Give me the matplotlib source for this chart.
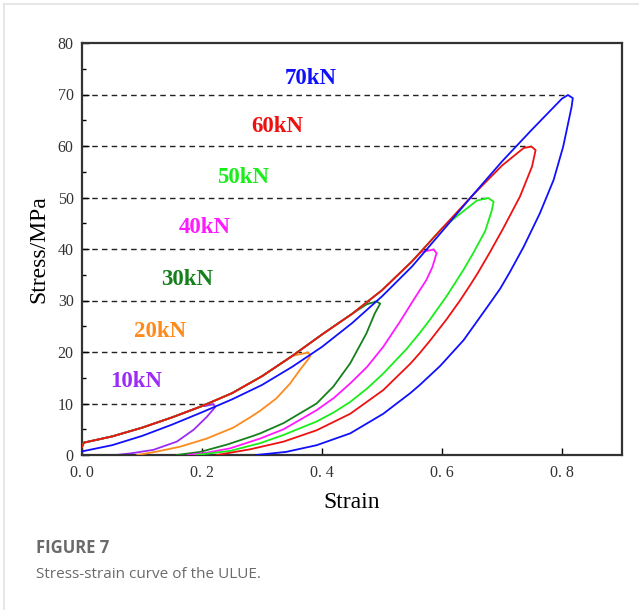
import numpy as np
import matplotlib
matplotlib.use("Agg")
import matplotlib.pyplot as plt
from matplotlib.lines import Line2D
from matplotlib.ticker import MultipleLocator

#####################################################################
### Data

# common loading branch (red / green / magenta ... lie on it)
env_strain = [0.0, 0.003, 0.05, 0.1, 0.15, 0.2, 0.25, 0.3, 0.35, 0.4, 0.45, 0.5,
              0.55, 0.6, 0.65, 0.7, 0.74]
env_stress = [1.6, 2.4, 3.6, 5.3, 7.3, 9.5, 12.0, 15.3, 19.2, 23.4, 27.4, 32.0,
              37.6, 44.0, 50.3, 56.2, 59.6]

# 70kN loading branch (a bit lower at small strain)
blue_strain = [0.0, 0.05, 0.1, 0.15, 0.2, 0.25, 0.3, 0.35, 0.4, 0.45, 0.5, 0.55,
               0.6, 0.65, 0.7, 0.75, 0.78, 0.8]
blue_stress = [0.7, 1.9, 3.7, 5.9, 8.3, 10.8, 13.6, 17.1, 21.0, 25.6, 30.8, 36.6,
               43.4, 50.3, 57.0, 63.2, 66.8, 69.2]

loads = ["10kN", "20kN", "30kN", "40kN", "50kN", "60kN", "70kN"]
peaks = [10, 20, 30, 40, 50, 60, 70]
peak_strain = [0.219, 0.377, 0.491, 0.586, 0.68, 0.749, 0.81]
colors = ["#9a2cf5", "#ff8a1c", "#15801c", "#ff1aff", "#1aee1a", "#ee1111", "#1010ff"]

# tip + unloading branch for each load (strain, stress)
unl_10_x = [0.205, 0.219, 0.222, 0.208, 0.186, 0.158, 0.119, 0.08, 0.057]
unl_10_y = [9.5, 9.9, 9.3, 7.4, 4.9, 2.6, 1.0, 0.3, 0.0]
unl_20_x = [0.36, 0.377, 0.381, 0.377, 0.363, 0.347, 0.324, 0.297, 0.28, 0.252,
            0.208, 0.163, 0.124, 0.092]
unl_20_y = [19.5, 19.9, 19.3, 18.6, 16.5, 13.9, 11.0, 8.6, 7.3, 5.3,
            3.2, 1.6, 0.65, 0.0]
unl_30_x = [0.475, 0.491, 0.497, 0.488, 0.474, 0.447, 0.419, 0.391, 0.336, 0.297,
            0.28, 0.241, 0.197, 0.158]
unl_30_y = [29.3, 29.8, 29.4, 27.5, 23.6, 17.8, 13.3, 10.0, 6.2, 4.2,
            3.5, 2.0, 0.6, 0.0]
unl_40_x = [0.565, 0.586, 0.591, 0.584, 0.574, 0.552, 0.53, 0.502, 0.475, 0.447,
            0.42, 0.391, 0.336, 0.297, 0.247, 0.208, 0.176]
unl_40_y = [39.4, 39.9, 39.2, 36.5, 34.0, 30.0, 25.9, 21.0, 17.1, 13.9,
            11.1, 8.7, 5.0, 3.2, 1.3, 0.45, 0.0]
unl_50_x = [0.62, 0.658, 0.677, 0.686, 0.683, 0.672, 0.652, 0.636, 0.624, 0.608,
            0.58, 0.563, 0.541, 0.502, 0.475, 0.447, 0.42, 0.391, 0.336, 0.297,
            0.247, 0.19]
unl_50_y = [45.9, 49.4, 49.9, 49.2, 47.5, 43.5, 39.2, 36.0, 33.8, 30.9,
            26.3, 23.7, 20.6, 15.8, 12.9, 10.3, 8.3, 6.5, 3.9, 2.3,
            0.8, 0.0]
unl_60_x = [0.736, 0.749, 0.756, 0.75, 0.73, 0.702, 0.68, 0.66, 0.647, 0.63,
            0.608, 0.58, 0.563, 0.547, 0.502, 0.447, 0.391, 0.336, 0.28, 0.25,
            0.225]
unl_60_y = [59.6, 59.9, 59.2, 56.0, 50.2, 44.0, 39.4, 35.4, 33.0, 30.0,
            26.4, 22.2, 19.8, 17.7, 12.6, 8.0, 4.8, 2.6, 1.1, 0.5,
            0.0]
unl_70_x = [0.81, 0.818, 0.816, 0.802, 0.786, 0.763, 0.736, 0.713, 0.697, 0.674,
            0.636, 0.597, 0.563, 0.547, 0.502, 0.447, 0.391, 0.34, 0.29]
unl_70_y = [69.9, 69.3, 67.6, 59.9, 53.4, 46.9, 40.4, 35.5, 32.3, 28.5,
            22.3, 17.3, 13.6, 12.0, 8.0, 4.2, 1.9, 0.6, 0.0]

unl_x = [unl_10_x, unl_20_x, unl_30_x, unl_40_x, unl_50_x, unl_60_x, unl_70_x]
unl_y = [unl_10_y, unl_20_y, unl_30_y, unl_40_y, unl_50_y, unl_60_y, unl_70_y]

# label positions (strain, stress)
lab_x = [0.09, 0.13, 0.175, 0.205, 0.268, 0.325, 0.382]
lab_y = [14.2, 23.9, 34.0, 44.1, 53.8, 63.7, 73.2]

xticks = [0.0, 0.2, 0.4, 0.6, 0.8]
xtick_labels = ["0. 0", "0. 2", "0. 4", "0. 6", "0. 8"]
yticks = [0, 10, 20, 30, 40, 50, 60, 70, 80]

#####################################################################
### Figure

serif = ["Liberation Serif", "DejaVu Serif"]

fig = plt.figure(figsize=(6.39, 6.10), dpi=100)
ax = fig.add_axes([82 / 639, 155 / 610, 540 / 639, 412 / 610])

# dashed guide lines from the axis to each peak
for p, ps in zip(peaks, peak_strain):
    ax.plot([0, ps], [p, p], ls=(0, (4, 3)), color="#222222", lw=1.0, zorder=1)

order = [0, 1, 2, 3, 4, 6, 5]
for i in order:
    if i == 6:
        bx = np.array(blue_strain)
        by = np.array(blue_stress)
    else:
        bx = np.array(env_strain)
        by = np.array(env_stress)
    keep = bx < unl_x[i][0]
    x = np.concatenate([bx[keep], unl_x[i]])
    y = np.concatenate([by[keep], unl_y[i]])
    ax.plot(x, y, color=colors[i], lw=1.3, zorder=2 + i, solid_joinstyle="round")
    ax.text(lab_x[i], lab_y[i], loads[i], color=colors[i], fontsize=16.5,
            fontweight="bold", family=serif, ha="center", va="center")

ax.set_xlim(0, 0.9)
ax.set_ylim(0, 80)
ax.set_xticks(xticks)
ax.set_xticklabels(xtick_labels)
ax.set_yticks(yticks)
ax.yaxis.set_minor_locator(MultipleLocator(5))
ax.tick_params(which="both", direction="in", labelsize=11.5, width=1.0)
ax.tick_params(which="major", length=5)
ax.tick_params(which="minor", length=3)
ax.tick_params(axis="x", pad=7)
ax.tick_params(axis="y", pad=6)
for lab in ax.get_xticklabels() + ax.get_yticklabels():
    lab.set_family(serif)
    lab.set_color("#333333")
for s in ax.spines.values():
    s.set_linewidth(1.6)
    s.set_color("#333333")

ax.set_xlabel("Strain", family=serif, fontsize=17, labelpad=8)
ax.set_ylabel("Stress/MPa", family=serif, fontsize=17, labelpad=6)

# card frame and caption
fig.add_artist(Line2D([4 / 639, 4 / 639], [0, 1 - 4 / 610], color="#e2e2e2", lw=1.2))
fig.add_artist(Line2D([4 / 639, 1], [1 - 4 / 610, 1 - 4 / 610], color="#e2e2e2", lw=1.2))
fig.text(36 / 639, 1 - 548 / 610, "FIGURE 7", family=["Open Sans", "DejaVu Sans"],
         fontsize=12, fontweight="bold", color="#6a6a6a", va="center")
fig.text(36 / 639, 1 - 574 / 610, "Stress-strain curve of the ULUE.",
         family=["Open Sans", "DejaVu Sans"], fontsize=11, color="#6a6a6a", va="center")

fig.savefig("out.png", dpi=100)
